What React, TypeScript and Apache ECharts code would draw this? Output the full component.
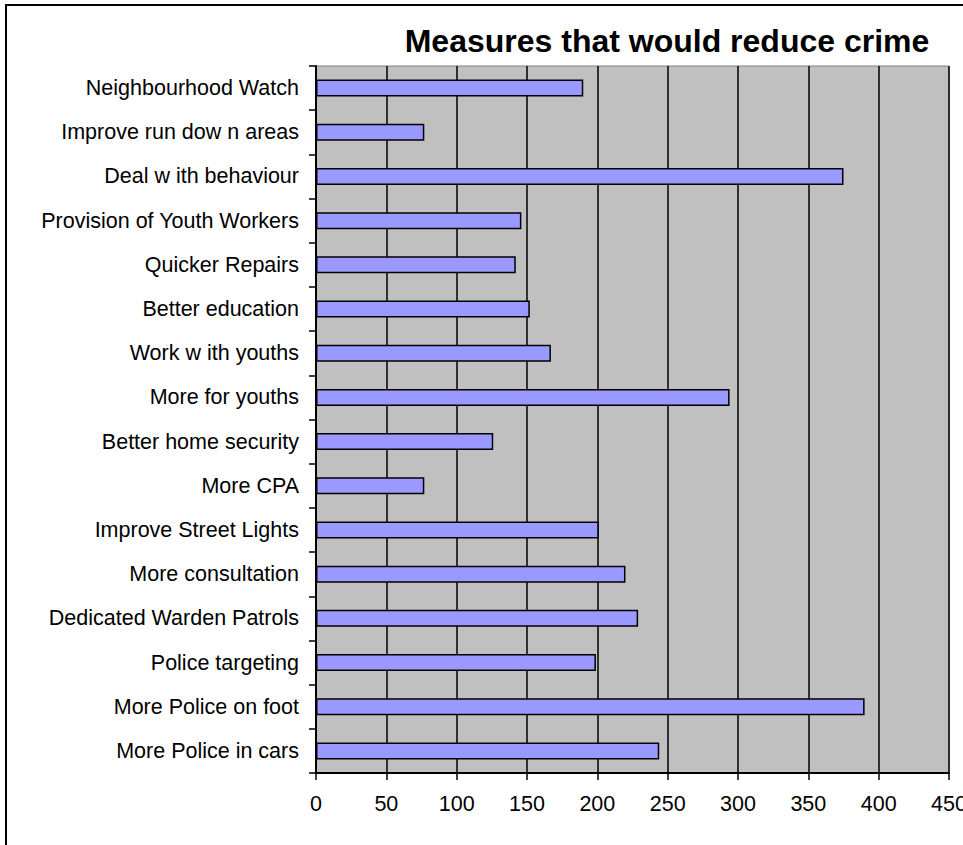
import React, { useEffect, useRef } from "react";
import * as echarts from "echarts";

const categories: string[] = [
  "Neighbourhood Watch",
  "Improve run dow n areas",
  "Deal w ith behaviour",
  "Provision of Youth Workers",
  "Quicker Repairs",
  "Better education",
  "Work w ith youths",
  "More for youths",
  "Better home security",
  "More CPA",
  "Improve Street Lights",
  "More consultation",
  "Dedicated Warden Patrols",
  "Police targeting",
  "More Police on foot",
  "More Police in cars",
];

const values: number[] = [190, 77, 375, 146, 142, 152, 167, 294, 126, 77, 201, 220, 229, 199, 390, 244];

const xTicks = { min: 0, max: 450, interval: 50 };
const title = "Measures that would reduce crime";

const FONT = "'Liberation Sans', Arial, sans-serif";

export default function App() {
  const ref = useRef<HTMLDivElement>(null);
  useEffect(() => {
    if (!ref.current) return;
    const chart = echarts.init(ref.current, undefined, { renderer: "svg", width: 963, height: 845 });
    chart.setOption({
      animation: false,
      backgroundColor: "#ffffff",
      textStyle: { fontFamily: FONT },
      grid: {
        left: 316,
        right: 14,
        top: 66,
        bottom: 72,
        containLabel: false,
        outerBoundsMode: "none",
        show: true,
        backgroundColor: "#C0C0C0",
        borderColor: "#808080",
        borderWidth: 1,
      },
      xAxis: {
        type: "value",
        min: xTicks.min,
        max: xTicks.max,
        interval: xTicks.interval,
        axisLine: { show: true, onZero: false, lineStyle: { color: "#000", width: 2 } },
        axisTick: { show: true, length: 7, lineStyle: { color: "#000", width: 1.5 } },
        axisLabel: { color: "#000", fontSize: 21.5, fontFamily: FONT, margin: 20 },
        splitLine: { show: true, lineStyle: { color: "#000", width: 1.5 } },
      },
      yAxis: {
        type: "category",
        data: categories,
        inverse: true,
        axisLine: { show: true, lineStyle: { color: "#000", width: 2 } },
        axisTick: { show: true, length: 7, alignWithLabel: false, lineStyle: { color: "#000", width: 1.5 } },
        axisLabel: { color: "#000", fontSize: 21.5, fontFamily: FONT, margin: 17 },
        splitLine: { show: false },
      },
      series: [
        {
          type: "bar",
          data: values,
          barWidth: 17,
          itemStyle: { color: "#9999FF", borderColor: "#000", borderWidth: 1.5 },
        },
      ],
      graphic: [
        {
          type: "text",
          x: 667,
          y: 41,
          style: {
            text: title,
            textAlign: "center",
            textVerticalAlign: "middle",
            fontFamily: FONT,
            fontSize: 32,
            fontWeight: "bold",
            fill: "#000",
          },
          silent: true,
        },
        {
          type: "rect",
          shape: { x: 6, y: 5, width: 1100, height: 1100 },
          style: { fill: "none", stroke: "#000", lineWidth: 2 },
          silent: true,
          z: 100,
        },
      ],
    });
    return () => chart.dispose();
  }, []);
  return (
    <div style={{ position: "absolute", left: 0, top: 0, width: 963, height: 845, overflow: "hidden" }}>
      <div ref={ref} style={{ width: 963, height: 845 }} />
    </div>
  );
}
